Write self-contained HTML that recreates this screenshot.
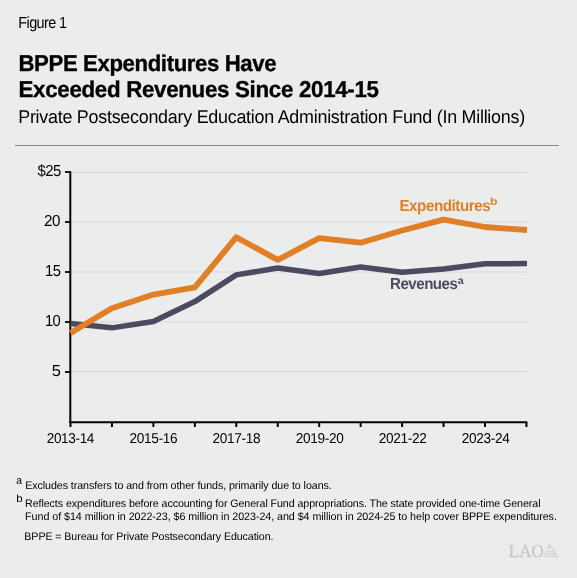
<!DOCTYPE html>
<html><head><meta charset="utf-8"><style>
html,body{margin:0;padding:0;background:#ebedec;width:577px;height:578px;overflow:hidden}
svg{display:block;will-change:transform}
text{font-family:"Liberation Sans",sans-serif;fill:#000;text-rendering:geometricPrecision}
</style></head><body>
<svg width="577" height="578" viewBox="0 0 577 578">
<rect id="bgr" width="577" height="578" fill="#ebedec"/>
<g id="chart">
<line x1="15" y1="145.5" x2="559" y2="145.5" stroke="#888" stroke-width="1"/>
<line x1="71" y1="172.5" x2="527" y2="172.5" stroke="#d6d7da" stroke-width="1"/><line x1="71" y1="222" x2="527" y2="222" stroke="#d6d7da" stroke-width="1"/><line x1="71" y1="272" x2="527" y2="272" stroke="#d6d7da" stroke-width="1"/><line x1="71" y1="322" x2="527" y2="322" stroke="#d6d7da" stroke-width="1"/><line x1="71" y1="371.5" x2="527" y2="371.5" stroke="#d6d7da" stroke-width="1"/>
<line x1="65" y1="172" x2="70" y2="172" stroke="#000" stroke-width="1.8"/><line x1="65" y1="222" x2="70" y2="222" stroke="#000" stroke-width="1.8"/><line x1="65" y1="272" x2="70" y2="272" stroke="#000" stroke-width="1.8"/><line x1="65" y1="322" x2="70" y2="322" stroke="#000" stroke-width="1.8"/><line x1="65" y1="372" x2="70" y2="372" stroke="#000" stroke-width="1.8"/>
<line x1="70.50" y1="422" x2="70.50" y2="427" stroke="#000" stroke-width="2"/><line x1="111.95" y1="422" x2="111.95" y2="427" stroke="#000" stroke-width="2"/><line x1="153.40" y1="422" x2="153.40" y2="427" stroke="#000" stroke-width="2"/><line x1="194.85" y1="422" x2="194.85" y2="427" stroke="#000" stroke-width="2"/><line x1="236.30" y1="422" x2="236.30" y2="427" stroke="#000" stroke-width="2"/><line x1="277.75" y1="422" x2="277.75" y2="427" stroke="#000" stroke-width="2"/><line x1="319.20" y1="422" x2="319.20" y2="427" stroke="#000" stroke-width="2"/><line x1="360.65" y1="422" x2="360.65" y2="427" stroke="#000" stroke-width="2"/><line x1="402.10" y1="422" x2="402.10" y2="427" stroke="#000" stroke-width="2"/><line x1="443.55" y1="422" x2="443.55" y2="427" stroke="#000" stroke-width="2"/><line x1="485.00" y1="422" x2="485.00" y2="427" stroke="#000" stroke-width="2"/><line x1="526.45" y1="422" x2="526.45" y2="427" stroke="#000" stroke-width="2"/>
<line x1="70.3" y1="171.2" x2="70.3" y2="423" stroke="#000" stroke-width="2"/>
<line x1="69.3" y1="422.2" x2="527.2" y2="422.2" stroke="#000" stroke-width="2"/>
<polyline points="70.50,323.50 111.95,327.85 153.40,321.50 194.85,301.60 236.30,274.90 277.75,268.00 319.20,273.50 360.65,267.00 402.10,272.30 443.55,269.10 485.00,263.70 527.00,263.60" fill="none" stroke="#4b4a60" stroke-width="5.5" stroke-linejoin="round"/>
<polyline points="70.50,333.00 111.95,308.20 153.40,294.60 194.85,287.30 236.30,237.20 277.75,259.90 319.20,238.10 360.65,242.70 402.10,230.50 443.55,219.60 485.00,227.00 527.00,230.00" fill="none" stroke="#e07f26" stroke-width="5.8" stroke-linejoin="round"/>
<text x="508.8" y="557.3" textLength="35" lengthAdjust="spacingAndGlyphs" style="font-family:'Liberation Serif',serif;font-size:18.3px;fill:#c6c7c9;stroke:#c6c7c9;stroke-width:0.3px;text-rendering:geometricPrecision">LAO</text>
<g fill="none" stroke="#cdced0" stroke-width="1">
<path d="M548.6 547 V544.6 H550.2 V547" />
<path d="M546.9 547.6 H551.6" stroke-width="0.9"/>
<path d="M551.5 548 Q554 549.5 555.5 553.5 L556 556" stroke-width="1.1"/>
<path d="M545.5 551.5 H553.5" stroke-width="0.8"/>
<path d="M545 553.2 H555.5" stroke-width="0.8"/>
<path d="M544.5 554.8 H556" stroke-width="0.8"/>
<path d="M543.2 556.6 H558" stroke-width="1"/>
</g>
</g>
<text id="fig" x="18.34" y="28.00" style="font-size:16.1px;letter-spacing:-0.679px" textLength="48.19" lengthAdjust="spacingAndGlyphs">Figure 1</text>
<text id="t1" x="18.49" y="71.00" style="font-size:22.9px;font-weight:bold;stroke:#000;stroke-width:0.35px;letter-spacing:-0.389px" textLength="257.70" lengthAdjust="spacingAndGlyphs">BPPE Expenditures Have</text>
<text id="t2" x="18.53" y="97.00" style="font-size:22.9px;font-weight:bold;stroke:#000;stroke-width:0.35px;letter-spacing:-0.307px" textLength="360.20" lengthAdjust="spacingAndGlyphs">Exceeded Revenues Since 2014-15</text>
<text id="sub" x="18.21" y="123.00" style="font-size:18.5px;letter-spacing:-0.263px" textLength="506.70" lengthAdjust="spacingAndGlyphs">Private Postsecondary Education Administration Fund (In Millions)</text>
<text id="fa" x="16.34" y="484.00" style="font-size:11px" textLength="5.75" lengthAdjust="spacingAndGlyphs">a</text>
<text id="f1" x="25.22" y="489.00" style="font-size:10.9px;letter-spacing:-0.085px" textLength="306.43" lengthAdjust="spacingAndGlyphs">Excludes transfers to and from other funds, primarily due to loans.</text>
<text id="fb" x="16.32" y="502.00" style="font-size:10.5px" textLength="6.37" lengthAdjust="spacingAndGlyphs">b</text>
<text id="f2" x="25.11" y="507.00" style="font-size:10.9px;letter-spacing:-0.091px" textLength="515.32" lengthAdjust="spacingAndGlyphs">Reflects expenditures before accounting for General Fund appropriations. The state provided one-time General</text>
<text id="f3" x="25.11" y="520.00" style="font-size:10.9px;letter-spacing:-0.066px" textLength="531.74" lengthAdjust="spacingAndGlyphs">Fund of $14 million in 2022-23, $6 million in 2023-24, and $4 million in 2024-25 to help cover BPPE expenditures.</text>
<text id="f4" x="24.34" y="540.00" style="font-size:10.9px;letter-spacing:-0.097px" textLength="249.09" lengthAdjust="spacingAndGlyphs">BPPE = Bureau for Private Postsecondary Education.</text>
<text id="le" x="399.40" y="211.00" style="font-size:16px;font-weight:bold;fill:#e07f26;letter-spacing:-0.435px" textLength="90.93" lengthAdjust="spacingAndGlyphs">Expenditures</text>
<text id="leb" x="490.01" y="205.00" style="font-size:10.5px;font-weight:bold;fill:#e07f26" textLength="7.46" lengthAdjust="spacingAndGlyphs">b</text>
<text id="lr" x="390.01" y="289.00" style="font-size:16px;font-weight:bold;fill:#4b4a60;letter-spacing:-0.512px" textLength="67.40" lengthAdjust="spacingAndGlyphs">Revenues</text>
<text id="lra" x="457.86" y="284.00" style="font-size:10.5px;font-weight:bold;fill:#4b4a60" textLength="6.02" lengthAdjust="spacingAndGlyphs">a</text>
<text id="y25" x="37.38" y="176.00" style="font-size:15.9px;letter-spacing:-0.504px" textLength="23.49" lengthAdjust="spacingAndGlyphs">$25</text>
<text id="y20" x="44.02" y="226.00" style="font-size:15.9px;letter-spacing:-0.378px" textLength="16.17" lengthAdjust="spacingAndGlyphs">20</text>
<text id="y15" x="44.94" y="276.00" style="font-size:15.9px;letter-spacing:-0.563px" textLength="15.44" lengthAdjust="spacingAndGlyphs">15</text>
<text id="y10" x="44.94" y="326.00" style="font-size:15.9px;letter-spacing:-0.612px" textLength="15.24" lengthAdjust="spacingAndGlyphs">10</text>
<text id="y5" x="51.70" y="376.00" style="font-size:15.9px" textLength="9.16" lengthAdjust="spacingAndGlyphs">5</text>
<text id="x0" x="46.74" y="443.00" style="font-size:14.3px;letter-spacing:-0.367px" textLength="47.33" lengthAdjust="spacingAndGlyphs">2013-14</text>
<text id="x2" x="129.60" y="443.00" style="font-size:14.3px;letter-spacing:-0.334px" textLength="47.79" lengthAdjust="spacingAndGlyphs">2015-16</text>
<text id="x4" x="212.55" y="443.00" style="font-size:14.3px;letter-spacing:-0.333px" textLength="47.81" lengthAdjust="spacingAndGlyphs">2017-18</text>
<text id="x6" x="295.79" y="443.00" style="font-size:14.3px;letter-spacing:-0.336px" textLength="47.76" lengthAdjust="spacingAndGlyphs">2019-20</text>
<text id="x8" x="378.70" y="443.00" style="font-size:14.3px;letter-spacing:-0.322px" textLength="47.95" lengthAdjust="spacingAndGlyphs">2021-22</text>
<text id="x10" x="461.85" y="443.00" style="font-size:14.3px;letter-spacing:-0.343px" textLength="47.67" lengthAdjust="spacingAndGlyphs">2023-24</text>
</svg>
</body></html>
